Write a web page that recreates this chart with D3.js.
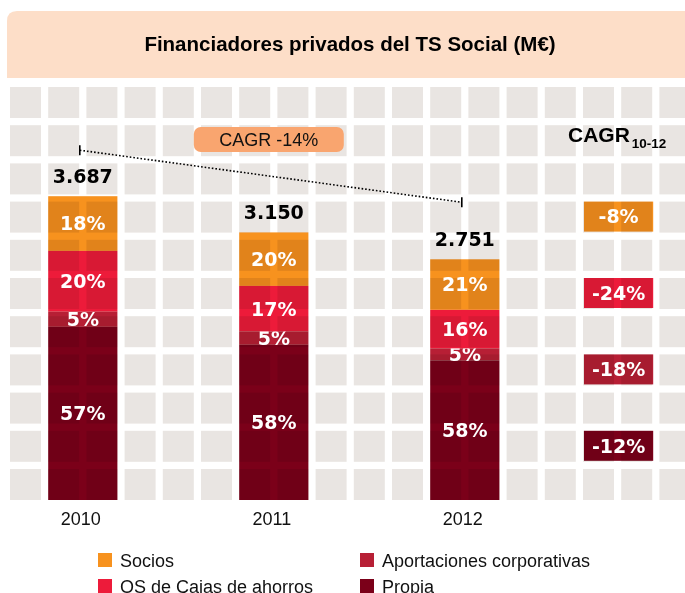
<!DOCTYPE html>
<html>
<head>
<meta charset="utf-8">
<script src="https://cdn.jsdelivr.net/npm/d3@7"></script>
<style>
  body { margin: 0; background: #fff; }
  svg { display: block; font-family: 'Liberation Sans', Arial, sans-serif; }
  .mult { mix-blend-mode: multiply; }
</style>
</head>
<body>
<svg width="685" height="593"></svg>
<script>
var years = ['2010', '2011', '2012'];
var totals = [3687, 3150, 2751];
var seriesNames = ['Socios', 'OS de Cajas de ahorros', 'Aportaciones corporativas', 'Propia'];
var socios = [18, 20, 21];
var osCajas = [20, 17, 16];
var aportaciones = [5, 5, 5];
var propia = [57, 58, 58];
var cagrSeries = [-8, -24, -18, -12];
var cagrTotal = -14;

var colors = ['#f7921e', '#ed1b3a', '#b71f35', '#7b0019'];

var width = 685;
var height = 593;
var grid = { x0: 10, y0: 87, step: 38.2, cell: 31, cols: 18, rows: 11 };
function col(i) { return grid.x0 + i * grid.step; }
function row(j) { return grid.y0 + j * grid.step; }
var base = row(grid.rows - 1) + grid.cell;

var svg = d3.select('svg');

// title band
svg.append('path')
  .attr('d', 'M7,78 V21 Q7,11 17,11 H690 V78 Z')
  .attr('fill', '#fddec8');
svg.append('text')
  .attr('x', 350).attr('y', 51)
  .attr('text-anchor', 'middle')
  .attr('font-size', '20.5px')
  .attr('font-weight', 'bold')
  .text('Financiadores privados del TS Social (M€)');

// background squares
var cells = [];
for (var r = 0; r < grid.rows; r++) {
  for (var c = 0; c < grid.cols; c++) cells.push([c, r]);
}
svg.append('g').selectAll('rect')
  .data(cells).enter().append('rect')
  .attr('x', function(d) { return col(d[0]); })
  .attr('y', function(d) { return row(d[1]); })
  .attr('width', grid.cell)
  .attr('height', grid.cell)
  .attr('fill', '#e9e5e2');

var xScale = d3.scalePoint().domain(years).range([col(1), col(11)]);
var barW = grid.step + grid.cell;
var yScale = d3.scaleLinear().domain([-820, 3690]).range([base, 196]);

var rows = years.map(function(y, i) {
  return { year: y, total: totals[i], Socios: socios[i], 'OS de Cajas de ahorros': osCajas[i],
    'Aportaciones corporativas': aportaciones[i], Propia: propia[i] };
});
var stack = d3.stack().keys(seriesNames.slice().reverse())(rows);

function segY(d, v) {
  var s = d3.scaleLinear().domain([0, 100]).range([base, yScale(d.data.total)]);
  return s(v);
}

var layers = svg.append('g').selectAll('g')
  .data(stack).enter().append('g')
  .attr('fill', function(d) { return colors[seriesNames.indexOf(d.key)]; });

layers.selectAll('rect')
  .data(function(d) { return d; })
  .enter().append('rect')
  .attr('class', 'mult')
  .attr('x', function(d) { return xScale(d.data.year); })
  .attr('y', function(d) { return segY(d, d[1]); })
  .attr('width', barW)
  .attr('height', function(d) { return segY(d, d[0]) - segY(d, d[1]); });

layers.selectAll('text')
  .data(function(d) { return d; })
  .enter().append('text')
  .attr('x', function(d) { return xScale(d.data.year) + barW / 2; })
  .attr('y', function(d) { return (segY(d, d[0]) + segY(d, d[1])) / 2; })
  .attr('dy', '0.36em')
  .attr('text-anchor', 'middle')
  .attr('font-family', 'DejaVu Sans')
  .attr('font-weight', 'bold')
  .attr('font-size', '19px')
  .attr('fill', '#fff')
  .text(function(d) { return (d[1] - d[0]) + '%'; });

// totals
svg.append('g').selectAll('text')
  .data(rows).enter().append('text')
  .attr('x', function(d) { return xScale(d.year) + barW / 2; })
  .attr('y', function(d) { return yScale(d.total) - 13; })
  .attr('text-anchor', 'middle')
  .attr('font-family', 'DejaVu Sans')
  .attr('font-weight', 'bold')
  .attr('font-size', '19px')
  .attr('fill', '#000')
  .text(function(d) { return d3.format(',')(d.total).replace(',', '.'); });

// year labels
svg.append('g').selectAll('text')
  .data(years).enter().append('text')
  .attr('x', function(d) { return xScale(d) + barW / 2 - 2; })
  .attr('y', 525)
  .attr('text-anchor', 'middle')
  .attr('font-size', '18px')
  .attr('fill', '#111')
  .text(function(d) { return d; });

// CAGR line between first and last bar
var first = rows[0], last = rows[rows.length - 1];
var x1 = xScale(first.year) + barW / 2 - 3, y1 = yScale(first.total) - 46;
var x2 = xScale(last.year) + barW / 2 - 3, y2 = yScale(last.total) - 57;
svg.append('line')
  .attr('x1', x1).attr('y1', y1).attr('x2', x2).attr('y2', y2)
  .attr('stroke', '#000').attr('stroke-width', 1.6)
  .attr('stroke-dasharray', '1.6,2');
[[x1, y1], [x2, y2]].forEach(function(p) {
  svg.append('line')
    .attr('x1', p[0]).attr('x2', p[0])
    .attr('y1', p[1] - 5).attr('y2', p[1] + 5)
    .attr('stroke', '#000').attr('stroke-width', 1.6);
});

var pillX = (x1 + x2) / 2 - 77;
svg.append('rect')
  .attr('x', pillX).attr('y', 127)
  .attr('width', 150).attr('height', 25)
  .attr('rx', 7)
  .attr('fill', '#f9a56f');
svg.append('text')
  .attr('x', pillX + 75).attr('y', 146)
  .attr('text-anchor', 'middle')
  .attr('font-size', '18px')
  .attr('fill', '#111')
  .text('CAGR ' + cagrTotal + '%');

// CAGR per series
var cagrHead = svg.append('text')
  .attr('x', 568).attr('y', 142)
  .attr('font-size', '21px')
  .attr('font-weight', 'bold');
cagrHead.append('tspan').text('CAGR');
cagrHead.append('tspan').attr('font-size', '13.5px').attr('dx', 2).attr('dy', 6).text('10-12');

var cagrRows = [3, 5, 7, 9];
var cg = svg.append('g').selectAll('g')
  .data(cagrSeries).enter().append('g');
cg.append('rect')
  .attr('class', 'mult')
  .attr('x', col(15) + 1)
  .attr('y', function(d, i) { return row(cagrRows[i]); })
  .attr('width', barW)
  .attr('height', 30)
  .attr('fill', function(d, i) { return colors[i]; });
cg.append('text')
  .attr('x', col(15) + 1 + barW / 2)
  .attr('y', function(d, i) { return row(cagrRows[i]) + 15; })
  .attr('dy', '0.36em')
  .attr('text-anchor', 'middle')
  .attr('font-family', 'DejaVu Sans')
  .attr('font-weight', 'bold')
  .attr('font-size', '19px')
  .attr('fill', '#fff')
  .text(function(d) { return d + '%'; });

// legend
var legendPos = [[98, 553], [98, 579], [360, 553], [360, 579]];
var lg = svg.append('g').selectAll('g')
  .data(seriesNames).enter().append('g')
  .attr('transform', function(d, i) { return 'translate(' + legendPos[i][0] + ',' + legendPos[i][1] + ')'; });
lg.append('rect')
  .attr('width', 14).attr('height', 14)
  .attr('fill', function(d, i) { return colors[i]; });
lg.append('text')
  .attr('x', 22).attr('y', 14)
  .attr('font-size', '18px')
  .attr('fill', '#111')
  .text(function(d) { return d; });
</script>
</body>
</html>
